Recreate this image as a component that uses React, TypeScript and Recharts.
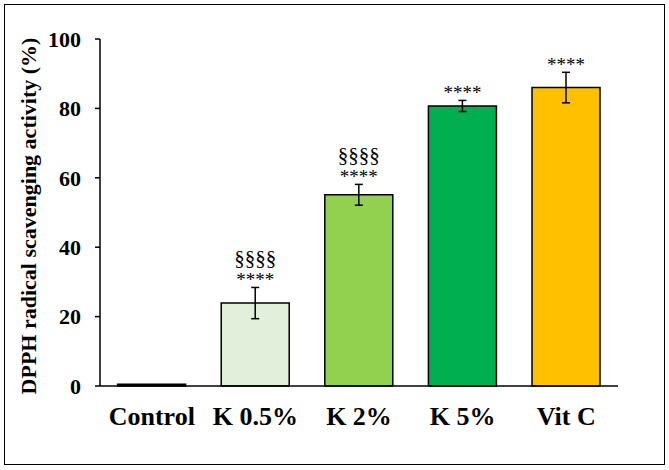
import React from "react";
import { BarChart, Bar, XAxis, YAxis, ErrorBar, LabelList, Cell } from "recharts";

const categories = ["Control", "K 0.5%", "K 2%", "K 5%", "Vit C"];
const values = [0.5, 23.9, 55.1, 80.7, 86.0];
const errors = [0, 4.5, 3.0, 1.6, 4.4];
const stars = ["", "****", "****", "****", "****"];
const sections = ["", "§§§§", "§§§§", "", ""];
const colors = ["#000000", "#E2EFDA", "#92D050", "#00B050", "#FFC000"];
const yTicks = [0, 20, 40, 60, 80, 100];

const data = categories.map((name, i) => ({
  name,
  value: values[i],
  err: errors[i],
}));

if (typeof document !== "undefined") {
  document.body.style.margin = "0";
}

const FONT = "'Liberation Serif', 'Times New Roman', serif";

const Annot = (props: any) => {
  const { x, y, width, height, index, value } = props;
  const s = stars[index];
  const sec = sections[index];
  if (!s && !sec) return null;
  const pxPerUnit = value ? height / value : 0;
  const errTop = y - errors[index] * pxPerUnit;
  const cx = x + width / 2;
  return (
    <g>
      {s && (
        <text x={cx} y={errTop - 1} textAnchor="middle" fontFamily={FONT} fontSize={19} fill="#000">
          {s}
        </text>
      )}
      {sec && (
        <text x={cx} y={errTop - 22} textAnchor="middle" fontFamily={FONT} fontSize={21} fill="#000">
          {sec}
        </text>
      )}
    </g>
  );
};

export default function App() {
  return (
    <div style={{ position: "relative", width: 669, height: 470, background: "#fff" }}>
      <div
        style={{
          position: "absolute",
          left: 4,
          top: 4,
          width: 659,
          height: 459,
          border: "1.5px solid #000",
          pointerEvents: "none",
        }}
      />
      <BarChart
        width={669}
        height={470}
        data={data}
        margin={{ top: 39, right: 51, left: 40, bottom: 44 }}
        barCategoryGap="17%"
      >
        <XAxis
          dataKey="name"
          tickLine={false}
          axisLine={{ stroke: "#000", strokeWidth: 1.5 }}
          tick={{ fill: "#000", fontSize: 26, fontWeight: "bold", fontFamily: FONT }}
          tickMargin={15}
          height={40}
          interval={0}
        />
        <YAxis
          domain={[0, 100]}
          ticks={yTicks}
          width={60}
          tickSize={5}
          tickMargin={14}
          axisLine={{ stroke: "#000", strokeWidth: 1.5 }}
          tickLine={{ stroke: "#000", strokeWidth: 1.5 }}
          tick={{ fill: "#000", fontSize: 22, fontWeight: "bold", fontFamily: FONT }}
          label={{
            content: () => (
              <text
                x={28}
                y={216}
                transform="rotate(-90, 28, 216)"
                textAnchor="middle"
                dominantBaseline="central"
                fontFamily={FONT}
                fontSize={22}
                fontWeight="bold"
                fill="#000"
              >
                DPPH radical scavenging activity (%)
              </text>
            ),
          }}
        />
        <Bar dataKey="value" isAnimationActive={false} stroke="#000" strokeWidth={1.5}>
          {data.map((d, i) => (
            <Cell key={d.name} fill={colors[i]} />
          ))}
          <ErrorBar dataKey="err" width={4} stroke="#000" strokeWidth={1.5} />
          <LabelList dataKey="value" content={<Annot />} />
        </Bar>
      </BarChart>
    </div>
  );
}
